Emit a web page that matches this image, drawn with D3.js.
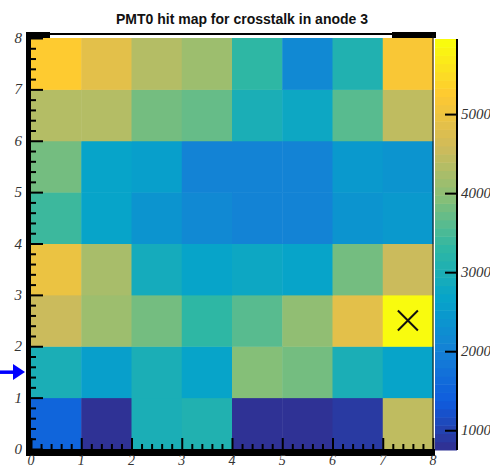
<!DOCTYPE html>
<html>
<head>
<meta charset="utf-8">
<script src="https://cdn.jsdelivr.net/npm/d3@7"></script>
<style>
  body { margin: 0; background: #fff; }
  svg { display: block; }
</style>
</head>
<body>
<div id="my_dataviz"></div>
<script>
// bin edges along x and y (anode columns / rows)
var xTicks = [0, 1, 2, 3, 4, 5, 6, 7, 8];
var yTicks = [0, 1, 2, 3, 4, 5, 6, 7, 8];
var zTicks = [1000, 2000, 3000, 4000, 5000];

// hit counts per row, bin y = 0 .. 7, columns x = 0 .. 7
var rowY0 = [1560, 800, 3000, 3110, 750, 790, 930, 4410];
var rowY1 = [2960, 2540, 3000, 2670, 3920, 3820, 3030, 2670];
var rowY2 = [4510, 4080, 3790, 3270, 3580, 4010, 4840, 5950];
var rowY3 = [4930, 4210, 2910, 2670, 2800, 2650, 3790, 4520];
var rowY4 = [3390, 2670, 2330, 2190, 2030, 2060, 2330, 2490];
var rowY5 = [3790, 2700, 2540, 2050, 2030, 2070, 2510, 2320];
var rowY6 = [4340, 4320, 3790, 3670, 2960, 2800, 3580, 4390];
var rowY7 = [5300, 4830, 4350, 4100, 3270, 2130, 3110, 5140];
var rows = [rowY0, rowY1, rowY2, rowY3, rowY4, rowY5, rowY6, rowY7];

// the anode with crosstalk source (cross) and the pointed row (arrow)
var markerBin = [7.5, 2.5];
var arrowY = 1.5;

var title = "PMT0 hit map for crosstalk in anode 3";

var width = 490,
    height = 468;

var svg = d3
    .select("#my_dataviz")
    .append("svg")
    .attr("width", width)
    .attr("height", height);

var x = d3.scaleLinear().domain([0, 8]).range([31, 433]);
var y = d3.scaleLinear().domain([0, 8]).range([449, 38]);

// kBird palette, 255 colours like ROOT
var birdStops = [0, 0.125, 0.25, 0.375, 0.5, 0.625, 0.75, 0.875, 1];
var birdRed = [0.2082, 0.0592, 0.078, 0.0232, 0.1802, 0.5301, 0.8186, 0.9956, 0.9764];
var birdGreen = [0.1664, 0.3599, 0.5041, 0.6419, 0.7178, 0.7492, 0.7328, 0.7862, 0.9832];
var birdBlue = [0.5293, 0.8684, 0.8385, 0.7914, 0.6425, 0.4662, 0.3499, 0.1968, 0.0539];
var bird = d3
    .scaleLinear()
    .domain(birdStops)
    .range(birdStops.map(function (s, i) {
        return d3.rgb(birdRed[i] * 255, birdGreen[i] * 255, birdBlue[i] * 255);
    }));
var nColors = 255;
var palette = d3.range(nColors).map(function (i) {
    return bird(i / (nColors - 1));
});

var cells = [];
rows.forEach(function (row, j) {
    row.forEach(function (v, i) {
        cells.push({ x: xTicks[i], y: yTicks[j], v: v });
    });
});

var zExtent = d3.extent(cells, function (d) { return d.v; });
var zmin = zExtent[0],
    zmax = zExtent[1];
var nCont = 50;

// same colour picking as THistPainter COLZ
function levelColor(level) {
    var idx = Math.floor((level + 0.99) * nColors / nCont);
    return palette[Math.min(idx, nColors - 1)];
}
function zColor(v) {
    var level = Math.floor(0.01 + (v - zmin) * nCont / (zmax - zmin));
    if (level > nCont - 1) level = nCont - 1;
    return levelColor(level);
}

// cells
svg.selectAll("rect.cell")
    .data(cells)
    .enter()
    .append("rect")
    .attr("class", "cell")
    .attr("x", function (d) { return x(d.x); })
    .attr("y", function (d) { return y(d.y + 1); })
    .attr("width", function (d) { return x(d.x + 1) - x(d.x) + 0.5; })
    .attr("height", function (d) { return y(d.y) - y(d.y + 1) + 0.5; })
    .attr("fill", function (d) { return zColor(d.v); });

// frame top / right
svg.append("rect")
    .attr("x", 26).attr("y", 33)
    .attr("width", x(8) - 26).attr("height", 2)
    .attr("fill", "#000");
svg.append("rect").attr("x", 26).attr("y", 32).attr("width", 24).attr("height", 6).attr("fill", "#000");
svg.append("rect").attr("x", 392).attr("y", 32).attr("width", 44).attr("height", 6).attr("fill", "#000");
svg.append("line")
    .attr("x1", x(8)).attr("x2", x(8))
    .attr("y1", 35).attr("y2", y(0))
    .attr("stroke", "#111").attr("stroke-width", 1);

// left axis: thick spine, ticks pointing into the plot
var leftAxis = d3.axisRight(y)
    .tickValues(d3.range(0, 8.01, 0.2))
    .tickSize(5)
    .tickFormat("");
var gl = svg.append("g").attr("transform", "translate(" + x(0) + ",0)").call(leftAxis);
gl.select(".domain").remove();
gl.selectAll(".tick line")
    .attr("stroke", "#000")
    .attr("stroke-width", 2)
    .attr("x2", function (d) { return Math.abs(d - Math.round(d)) < 1e-6 ? 12 : 5; });
svg.append("rect")
    .attr("x", 26).attr("y", 32)
    .attr("width", 5).attr("height", y(0) - 32 + 7)
    .attr("fill", "#000");

// bottom axis
var bottomAxis = d3.axisTop(x)
    .tickValues(d3.range(0, 8.01, 0.2))
    .tickSize(5)
    .tickFormat("");
var gb = svg.append("g").attr("transform", "translate(0," + y(0) + ")").call(bottomAxis);
gb.select(".domain").remove();
gb.selectAll(".tick line")
    .attr("stroke", "#000")
    .attr("stroke-width", 2)
    .attr("y2", function (d) { return Math.abs(d - Math.round(d)) < 1e-6 ? -11 : -5; });
svg.append("rect")
    .attr("x", 26).attr("y", y(0))
    .attr("width", x(8) - 26 + 2).attr("height", 7)
    .attr("fill", "#000");

// tick labels
var labelFont = "'Liberation Serif', 'DejaVu Serif', serif";
svg.selectAll("text.ylab")
    .data(yTicks)
    .enter()
    .append("text")
    .attr("class", "ylab")
    .attr("x", 22)
    .attr("y", function (d) { return y(d) + 5; })
    .attr("text-anchor", "end")
    .style("font-family", labelFont)
    .style("font-style", "italic")
    .style("font-size", "15px")
    .style("fill", "#333")
    .text(function (d) { return d; });

svg.selectAll("text.xlab")
    .data(xTicks)
    .enter()
    .append("text")
    .attr("class", "xlab")
    .attr("x", function (d) { return x(d); })
    .attr("y", 465)
    .attr("text-anchor", "middle")
    .style("font-family", labelFont)
    .style("font-style", "italic")
    .style("font-size", "14px")
    .style("fill", "#333")
    .text(function (d) { return d; });

// colour bar
var z = d3.scaleLinear().domain([zmin, zmax]).range([y(0) + 1, y(8) + 1]);
var bands = d3.range(nCont);
var dz = (zmax - zmin) / nCont;
svg.selectAll("rect.band")
    .data(bands)
    .enter()
    .append("rect")
    .attr("class", "band")
    .attr("x", 435)
    .attr("width", 22)
    .attr("y", function (d) { return z(zmin + (d + 1) * dz); })
    .attr("height", function (d) { return z(zmin + d * dz) - z(zmin + (d + 1) * dz) + 0.5; })
    .attr("fill", function (d) { return levelColor(d); });

var zAxis = d3.axisLeft(z)
    .tickValues(zTicks)
    .tickSize(12)
    .tickFormat("");
var gz = svg.append("g").attr("transform", "translate(457,0)").call(zAxis);
gz.select(".domain").attr("stroke", "#000").attr("stroke-width", 2).attr("d", "M0," + z(zmin) + "V" + z(zmax));
gz.selectAll(".tick line").attr("stroke", "#000").attr("stroke-width", 2);

svg.selectAll("text.zlab")
    .data(zTicks)
    .enter()
    .append("text")
    .attr("class", "zlab")
    .attr("x", 461)
    .attr("y", function (d) { return z(d) + 5; })
    .style("font-family", labelFont)
    .style("font-style", "italic")
    .style("font-size", "15px")
    .style("fill", "#333")
    .text(function (d) { return d; });

// cross on the source anode
var mx = x(markerBin[0]),
    my = y(markerBin[1]),
    ms = 10;
svg.append("path")
    .attr("d", "M" + (mx - ms) + "," + (my - ms) + "L" + (mx + ms) + "," + (my + ms) +
        "M" + (mx - ms) + "," + (my + ms) + "L" + (mx + ms) + "," + (my - ms))
    .attr("stroke", "#111")
    .attr("stroke-width", 2)
    .attr("fill", "none");

// blue arrow on the left
var ay = y(arrowY);
svg.append("rect")
    .attr("x", 0).attr("y", ay - 1.5)
    .attr("width", 14).attr("height", 3.5)
    .attr("fill", "#0000ff");
svg.append("path")
    .attr("d", "M13," + (ay - 8) + "L25," + ay + "L13," + (ay + 8) + "Z")
    .attr("fill", "#0000ff");

// title
svg.append("text")
    .attr("x", 242)
    .attr("y", 24)
    .attr("text-anchor", "middle")
    .style("font-family", "'Liberation Sans', Arial, sans-serif")
    .style("font-weight", "bold")
    .style("font-size", "14px")
    .style("fill", "#111")
    .text(title);
</script>
</body>
</html>
